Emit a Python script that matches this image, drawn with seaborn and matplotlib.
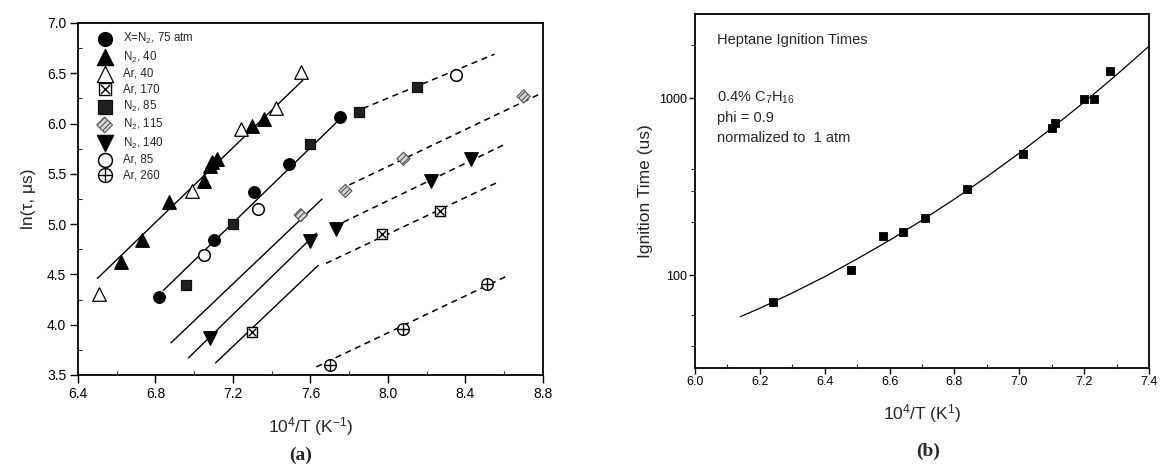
import numpy as np
import pandas as pd
import matplotlib
matplotlib.use("Agg")
import matplotlib.pyplot as plt
import seaborn as sns
from matplotlib.ticker import FixedLocator, FixedFormatter, NullFormatter, MultipleLocator

# ---------------- Panel (a) data: ln(tau, us) vs 10^4/T ----------------
n2_75_x = [6.82, 7.10, 7.31, 7.49, 7.75]
n2_75_y = [4.28, 4.84, 5.32, 5.60, 6.07]
n2_40_x = [6.62, 6.73, 6.87, 7.05, 7.08, 7.09, 7.12, 7.30, 7.36]
n2_40_y = [4.62, 4.84, 5.22, 5.43, 5.58, 5.62, 5.65, 5.98, 6.05]
ar_40_x = [6.51, 6.99, 7.24, 7.42, 7.55]
ar_40_y = [4.31, 5.33, 5.95, 6.15, 6.51]
ar_170_x = [7.30, 7.97, 8.27]
ar_170_y = [3.93, 4.90, 5.13]
n2_85_x = [6.96, 7.20, 7.60, 7.85, 8.15]
n2_85_y = [4.39, 5.00, 5.80, 6.12, 6.36]
n2_115_x = [7.55, 7.78, 8.08, 8.70]
n2_115_y = [5.09, 5.33, 5.65, 6.27]
n2_140_x = [7.08, 7.60, 7.73, 8.22, 8.43]
n2_140_y = [3.87, 4.83, 4.95, 5.43, 5.65]
ar_85_x = [7.05, 7.33, 8.35]
ar_85_y = [4.69, 5.15, 6.48]
ar_260_x = [7.70, 8.08, 8.51]
ar_260_y = [3.60, 3.96, 4.40]

legend_labels = ["X=N$_2$, 75 atm", "N$_2$, 40", "Ar, 40", "Ar, 170", "N$_2$, 85",
                 "N$_2$, 115", "N$_2$, 140", "Ar, 85", "Ar, 260"]

# fit lines (solid = low-T side, dashed = high 10^4/T side)
solid_x = [[6.50, 7.56], [6.84, 7.76], [6.88, 7.66], [6.97, 7.63], [7.11, 7.64]]
solid_y = [[4.46, 6.43], [4.34, 6.06], [3.82, 5.25], [3.67, 4.91], [3.62, 4.59]]
dash_x = [[7.87, 8.55], [7.80, 8.79], [7.77, 8.61], [7.68, 8.57], [7.63, 8.61]]
dash_y = [[6.15, 6.69], [5.39, 6.30], [5.02, 5.80], [4.61, 5.42], [3.58, 4.48]]

a_xticks = [6.4, 6.8, 7.2, 7.6, 8.0, 8.4, 8.8]
a_yticks = [3.5, 4.0, 4.5, 5.0, 5.5, 6.0, 6.5, 7.0]

# ---------------- Panel (b) data: heptane ignition times ----------------
b_x = [6.24, 6.48, 6.58, 6.64, 6.71, 6.84, 7.01, 7.10, 7.11, 7.20, 7.23, 7.28]
b_y = [71, 107, 167, 176, 210, 309, 488, 682, 730, 987, 987, 1422]
curve_x = [6.14, 6.2, 6.3, 6.4, 6.5, 6.6, 6.7, 6.8, 6.9, 7.0, 7.1, 7.2, 7.3, 7.4]
curve_y = [58.5, 65.3, 79.6, 98.4, 124, 158, 205, 270, 361, 491, 679, 953, 1360, 1973]
b_xticks = [6.0, 6.2, 6.4, 6.6, 6.8, 7.0, 7.2, 7.4]
b_yticks = [100, 1000]

# ---------------- style ----------------
sns.set_theme(style="ticks")
plt.rcParams["font.family"] = ["Liberation Sans", "DejaVu Sans"]
plt.rcParams["mathtext.fontset"] = "custom"
plt.rcParams["mathtext.rm"] = "Liberation Sans"
plt.rcParams["mathtext.it"] = "Liberation Sans:italic"
plt.rcParams["hatch.linewidth"] = 0.8

fig = plt.figure(figsize=(11.75, 4.68), dpi=100)
axa = fig.add_axes([78 / 1175, 1 - 375 / 468, 465 / 1175, 352 / 468])
axb = fig.add_axes([695 / 1175, 1 - 368 / 468, 454 / 1175, 354 / 468])


def pts(ax, x, y, marker, s, fc, ec="black", lw=0.9, hatch=None, z=4):
    kw = dict(x=x, y=y, ax=ax, marker=marker, s=s, color=fc, linewidth=lw,
              zorder=z, legend=False)
    if marker not in ("x", "+"):
        kw["edgecolor"] = ec
    if hatch:
        kw["hatch"] = hatch
    sns.scatterplot(**kw)
    return ax.collections[-1]


# ---- panel (a) lines
for xs, ys in zip(solid_x, solid_y):
    sns.lineplot(x=xs, y=ys, ax=axa, color="black", lw=1.0, zorder=2)
for xs, ys in zip(dash_x, dash_y):
    sns.lineplot(x=xs, y=ys, ax=axa, color="black", lw=1.1, zorder=2,
                 linestyle=(0, (4, 3)))

# ---- panel (a) points
h = []
h.append(pts(axa, n2_75_x, n2_75_y, "o", 70, "black"))
h.append(pts(axa, n2_40_x, n2_40_y, "^", 95, "black"))
h.append(pts(axa, ar_40_x, ar_40_y, "^", 95, "white"))
sq = pts(axa, ar_170_x, ar_170_y, "s", 50, "white", lw=1.0)
xx = pts(axa, ar_170_x, ar_170_y, "x", 30, "black", lw=1.0, z=5)
h.append((sq, xx))
h.append(pts(axa, n2_85_x, n2_85_y, "s", 62, "#202020", ec="#101010"))
h.append(pts(axa, n2_115_x, n2_115_y, "D", 45, "#d8d8d8", ec="#555555", lw=0.8,
             hatch="//////"))
h.append(pts(axa, n2_140_x, n2_140_y, "v", 95, "black"))
h.append(pts(axa, ar_85_x, ar_85_y, "o", 70, "white", lw=1.1))
oc = pts(axa, ar_260_x, ar_260_y, "o", 70, "white", lw=1.0)
pl = pts(axa, ar_260_x, ar_260_y, "+", 70, "black", lw=1.0, z=5)
h.append((oc, pl))

axa.legend(h, legend_labels, loc="upper left", bbox_to_anchor=(0.03, 0.997),
           frameon=False, fontsize=8.3, handlelength=1.0, handletextpad=1.1,
           labelspacing=0.29, borderaxespad=0.2, scatterpoints=1, markerscale=1.2)

axa.set_xlim(6.4, 8.8)
axa.set_ylim(3.5, 7.0)
axa.xaxis.set_major_locator(FixedLocator(a_xticks))
axa.xaxis.set_major_formatter(FixedFormatter([f"{v:.1f}" for v in a_xticks]))
axa.yaxis.set_major_locator(FixedLocator(a_yticks))
axa.yaxis.set_major_formatter(FixedFormatter([f"{v:.1f}" for v in a_yticks]))
axa.xaxis.set_minor_locator(MultipleLocator(0.2))
axa.yaxis.set_minor_locator(MultipleLocator(0.25))
axa.tick_params(which="major", direction="out", length=6, width=1.0, labelsize=10,
                pad=2.5, colors="black")
axa.tick_params(which="minor", direction="in", length=3, width=0.8)
axa.set_xlabel("10$^4$/T (K$^{-1}$)", fontsize=12.5, labelpad=10)
axa.set_ylabel("ln(τ, μs)", fontsize=12.5, labelpad=8)
for sp in axa.spines.values():
    sp.set_visible(True)
    sp.set_linewidth(1.3)
    sp.set_color("black")

# ---- panel (b)
axb.set_yscale("log")
sns.lineplot(x=curve_x, y=curve_y, ax=axb, color="black", lw=0.9, zorder=2)
pts(axb, b_x, b_y, "s", 30, "black", lw=0.6)

axb.set_xlim(6.0, 7.4)
axb.set_ylim(30, 3000)
axb.xaxis.set_major_locator(FixedLocator(b_xticks))
axb.xaxis.set_major_formatter(FixedFormatter([f"{v:.1f}" for v in b_xticks]))
axb.xaxis.set_minor_locator(MultipleLocator(0.1))
axb.yaxis.set_major_locator(FixedLocator(b_yticks))
axb.yaxis.set_major_formatter(FixedFormatter(["100", "1000"]))
axb.yaxis.set_minor_locator(FixedLocator([40, 60, 200, 300, 400, 2000]))
axb.yaxis.set_minor_formatter(NullFormatter())
axb.tick_params(which="major", direction="out", length=4, width=1.0, labelsize=9,
                pad=2, colors="black")
axb.tick_params(which="minor", direction="out", length=3, width=0.8)
axb.tick_params(axis="x", which="minor", direction="in")
axb.set_xlabel("10$^4$/T (K$^1$)", fontsize=12.5, labelpad=10)
axb.set_ylabel("Ignition Time (us)", fontsize=12.5, labelpad=4)
for sp in axb.spines.values():
    sp.set_visible(True)
    sp.set_linewidth(1.3)
    sp.set_color("black")

tx = 0.048
axb.text(tx, 0.927, "Heptane Ignition Times", transform=axb.transAxes,
         fontsize=10.5, va="center", ha="left")
axb.text(tx, 0.763, "0.4% C$_7$H$_{16}$", transform=axb.transAxes,
         fontsize=10.5, va="center", ha="left")
axb.text(tx, 0.706, "phi = 0.9", transform=axb.transAxes,
         fontsize=10.5, va="center", ha="left")
axb.text(tx, 0.650, "normalized to  1 atm", transform=axb.transAxes,
         fontsize=10.5, va="center", ha="left")

fig.text(301 / 1175, 1 - 455 / 468, "(a)", fontsize=14, fontweight="bold",
         family="Liberation Serif", ha="center", va="center")
fig.text(928 / 1175, 1 - 451 / 468, "(b)", fontsize=14, fontweight="bold",
         family="Liberation Serif", ha="center", va="center")

fig.savefig("out.png", dpi=100, facecolor="white")
